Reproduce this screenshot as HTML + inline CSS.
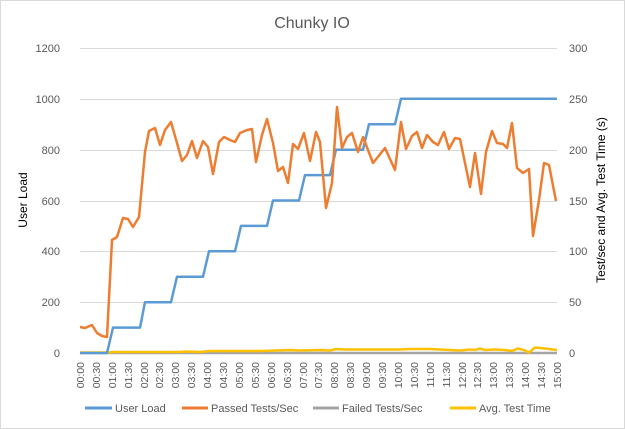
<!DOCTYPE html>
<html><head><meta charset="utf-8"><style>body{margin:0;background:#fff}svg{display:block;font-family:"Liberation Sans",sans-serif}</style></head><body>
<svg width="625" height="429" viewBox="0 0 625 429" xmlns="http://www.w3.org/2000/svg">
<rect x="0.5" y="0.5" width="624" height="428" fill="#fff" stroke="#d9d9d9"/>
<text x="312" y="28" text-anchor="middle" font-size="16" fill="#595959">Chunky IO</text>
<g stroke="#d9d9d9" stroke-width="1">
<line x1="80" x2="557" y1="48.5" y2="48.5"/><line x1="80" x2="557" y1="99.5" y2="99.5"/><line x1="80" x2="557" y1="150.5" y2="150.5"/><line x1="80" x2="557" y1="201.5" y2="201.5"/><line x1="80" x2="557" y1="251.5" y2="251.5"/><line x1="80" x2="557" y1="302.5" y2="302.5"/><line x1="80" x2="557" y1="353.5" y2="353.5"/>
</g>
<g font-size="11" fill="#595959" text-anchor="end">
<text x="60" y="52">1200</text><text x="60" y="103">1000</text><text x="60" y="154">800</text><text x="60" y="205">600</text><text x="60" y="255">400</text><text x="60" y="306">200</text><text x="60" y="357">0</text>
</g>
<g font-size="11" fill="#595959">
<text x="569" y="52">300</text><text x="569" y="103">250</text><text x="569" y="154">200</text><text x="569" y="205">150</text><text x="569" y="255">100</text><text x="569" y="306">50</text><text x="569" y="357">0</text>
</g>
<text transform="translate(27,200) rotate(-90)" text-anchor="middle" font-size="12" fill="#000">User Load</text>
<text transform="translate(605,200) rotate(-90)" text-anchor="middle" font-size="12" fill="#000">Test/sec and Avg. Test Time (s)</text>
<g font-size="11" fill="#595959" text-anchor="end" id="xl"></g>
<polyline fill="none" stroke="#a5a5a5" stroke-width="2.5" points="80,353 557,353"/>
<polyline fill="none" stroke="#ffc000" stroke-width="2.5" points="80,352.5 110,352.5 112,352 180,352 186,351.5 200,352 210,351 260,351 275,350.5 290,350 300,350.5 320,350 330,350.5 336,349 345,349.5 400,349.5 410,349 430,349 440,349.5 450,350 460,350.5 470,349.5 475,350 480,348.5 485,350 495,349.5 505,350 512,351 518,348.5 524,350 529,352.5 535,347.5 545,348.5 557,350"/>
<polyline fill="none" stroke="#5b9bd5" stroke-width="2.5" stroke-linejoin="round" points="80,353 107,353 113,327.6 140,327.6 145,302.2 171,302.2 177,276.7 203,276.7 209,251.3 235,251.3 241,225.9 267,225.9 273,200.5 299,200.5 305,175.1 330,175.1 336,149.7 363,149.7 369,124.2 395,124.2 401,98.8 557,98.8"/>
<polyline fill="none" stroke="#ed7d31" stroke-width="2.5" stroke-linejoin="round" points="80,327 85,328 92,325 97,333 102,336 107,337 112,240 117,237 123,218 128,219 133,227 139,217 145,152 149,131 155,128 160,145 165,130 171,122 177,143 182,161 187,155 192,141 197,158 203,141 208,147 213,174 219,142 224,137 230,140 235,142 240,133 247,130 252,129 256,162 262,135 267,119 273,143 278,171 283,167 288,183 293,144 298,149 304,133 310,161 316,132 320,142 326,208 332,183 337,107 342,148 347,137 352,133 358,152 363,137 373,163 385,148 395,170 401,122 406,149 412,136 417,132 422,148 427,135 433,142 438,145 444,132 449,149 455,138 460,139 470,187 475,153 481,194 486,152 492,131 497,143 503,144 507,148 512,123 517,168 523,173 529,169 533,236 539,200 544,163 549,165 556,201"/>
<g stroke-width="3">
<line x1="85" x2="112" y1="408" y2="408" stroke="#5b9bd5"/>
<line x1="182" x2="208" y1="408" y2="408" stroke="#ed7d31"/>
<line x1="313" x2="339" y1="408" y2="408" stroke="#a5a5a5"/>
<line x1="450" x2="476" y1="408" y2="408" stroke="#ffc000"/>
</g>
<g font-size="11" fill="#595959">
<text x="115" y="412">User Load</text><text x="211" y="412">Passed Tests/Sec</text><text x="342" y="412">Failed Tests/Sec</text><text x="479" y="412">Avg. Test Time</text>
</g>
<g font-size="10.5" fill="#595959" text-anchor="end">
<text transform="translate(84,362) rotate(-90)">00:00</text>
<text transform="translate(100,362) rotate(-90)">00:30</text>
<text transform="translate(116,362) rotate(-90)">01:00</text>
<text transform="translate(132,362) rotate(-90)">01:30</text>
<text transform="translate(148,362) rotate(-90)">02:00</text>
<text transform="translate(163,362) rotate(-90)">02:30</text>
<text transform="translate(179,362) rotate(-90)">03:00</text>
<text transform="translate(195,362) rotate(-90)">03:30</text>
<text transform="translate(211,362) rotate(-90)">04:00</text>
<text transform="translate(227,362) rotate(-90)">04:30</text>
<text transform="translate(243,362) rotate(-90)">05:00</text>
<text transform="translate(259,362) rotate(-90)">05:30</text>
<text transform="translate(275,362) rotate(-90)">06:00</text>
<text transform="translate(291,362) rotate(-90)">06:30</text>
<text transform="translate(307,362) rotate(-90)">07:00</text>
<text transform="translate(322,362) rotate(-90)">07:30</text>
<text transform="translate(338,362) rotate(-90)">08:00</text>
<text transform="translate(354,362) rotate(-90)">08:30</text>
<text transform="translate(370,362) rotate(-90)">09:00</text>
<text transform="translate(386,362) rotate(-90)">09:30</text>
<text transform="translate(402,362) rotate(-90)">10:00</text>
<text transform="translate(418,362) rotate(-90)">10:30</text>
<text transform="translate(434,362) rotate(-90)">11:00</text>
<text transform="translate(450,362) rotate(-90)">11:30</text>
<text transform="translate(466,362) rotate(-90)">12:00</text>
<text transform="translate(481,362) rotate(-90)">12:30</text>
<text transform="translate(497,362) rotate(-90)">13:00</text>
<text transform="translate(513,362) rotate(-90)">13:30</text>
<text transform="translate(529,362) rotate(-90)">14:00</text>
<text transform="translate(545,362) rotate(-90)">14:30</text>
<text transform="translate(561,362) rotate(-90)">15:00</text>
</g>
</svg>
</body></html>
